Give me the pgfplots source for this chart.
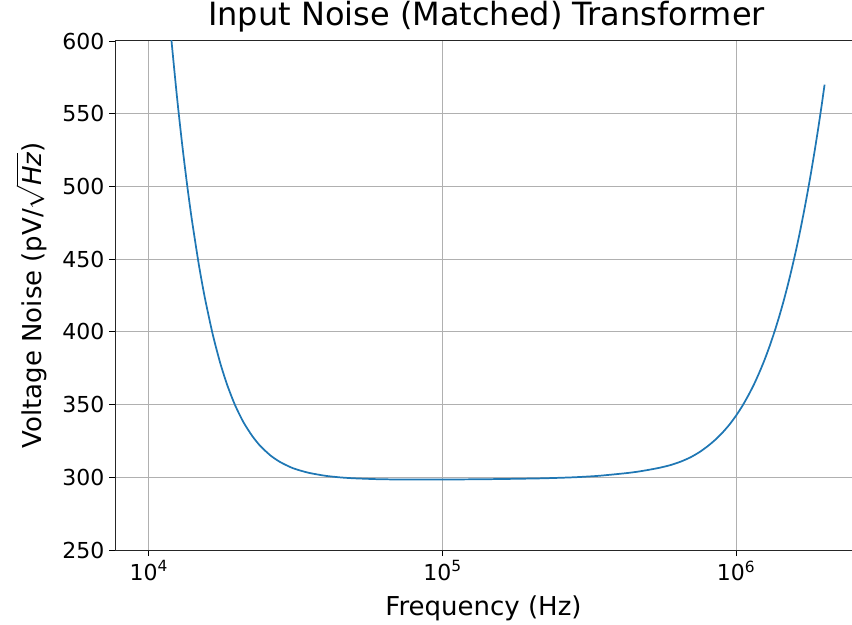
\documentclass[border=0pt]{standalone}
\usepackage{pgfplots}
\pgfplotsset{compat=1.18}
\usepackage{fontspec}
\setmainfont{DejaVu Sans}
\definecolor{cblue}{HTML}{1F77B4}
\definecolor{gridc}{HTML}{B0B0B0}
\begin{document}
\begin{tikzpicture}[x=1pt,y=1pt]
\begin{axis}[
  at={(0pt,0pt)}, anchor=south west,
  scale only axis, width=552.75pt, height=381.75pt,
  xmode=log, log basis x=10,
  xmin=7674, xmax=2.48e6,
  ymin=250, ymax=600,
  axis y line*=left,
  xtick pos=bottom, ytick pos=left,
  tick align=outside,
  xtick={1e4,1e5,1e6},
  xticklabels={10\textsuperscript{4},10\textsuperscript{5},10\textsuperscript{6}},
  ytick={250,300,350,400,450,500,550,600},
  yticklabel style={/pgf/number format/assume math mode=true, font=\fontsize{16.5}{18}\selectfont},
  xticklabel style={font=\fontsize{16.5}{18}\selectfont},
  major tick length=4.5pt, minor tick length=2.6pt,
  every tick/.style={black, line width=0.6pt},
  grid=major,
  major grid style={gridc, line width=0.75pt},
  axis line style={black!85, line width=0.75pt},
  title={Input Noise (Matched) Transformer},
  title style={at={(axis description cs:0.504,1.0138)}, anchor=base, font=\fontsize{24}{28}\selectfont},
  xlabel={Frequency (Hz)},
  xlabel style={at={(axis description cs:0.5,-0.1277)}, anchor=base, font=\fontsize{19.5}{22}\selectfont},
  ylabel={Voltage Noise (pV/$\sqrt{\textit{Hz}}$)},
  ylabel style={at={(axis description cs:-0.1004,0.5)}, anchor=base, font=\fontsize{19.5}{22}\selectfont},
]
\addplot[cblue, line width=1.3pt, smooth, tension=0.4] coordinates {
(10000,813.6) (10500,745.5) (11000,687.6) (11500,638.3) (11950,600) (12500,559.7)
(13000,528.4) (13500,501.3) (14000,477.8) (14800,446.4) (15500,424.0) (16490,398.7)
(17500,378.7) (18500,363.4) (19640,349.9) (21000,337.9) (22500,328.4) (24000,321.4)
(26000,314.9) (28000,310.5) (31000,306.2) (35000,303.1) (40000,301.0) (45000,299.9)
(50000,299.3) (60000,298.7) (70000,298.5) (85000,298.4) (100000,298.5) (130000,298.6)
(170000,298.9) (220000,299.3) (280000,300.0) (340000,301.0) (420000,302.8) (460000,303.8)
(500000,305.0) (550000,306.6) (600000,308.5) (650000,310.9) (700000,313.8) (750000,317.3)
(800000,321.4) (850000,325.9) (900000,330.9) (950000,336.4) (1000000,342.5) (1050000,349.1)
(1100000,356.3) (1150000,363.9) (1200000,372.2) (1250000,380.9) (1300000,390.2) (1350000,400.0)
(1400000,410.3) (1450000,421.1) (1500000,432.4) (1550000,444.2) (1600000,456.4) (1650000,469.1)
(1700000,482.3) (1750000,495.9) (1800000,509.9) (1850000,524.3) (1900000,539.1) (1950000,554.3)
(2000000,570.0)
};
\end{axis}
\pgfresetboundingbox
\path[use as bounding box] (-86.25pt,-55.5pt) rectangle (552.75pt,412.5pt);
\end{tikzpicture}
\end{document}
